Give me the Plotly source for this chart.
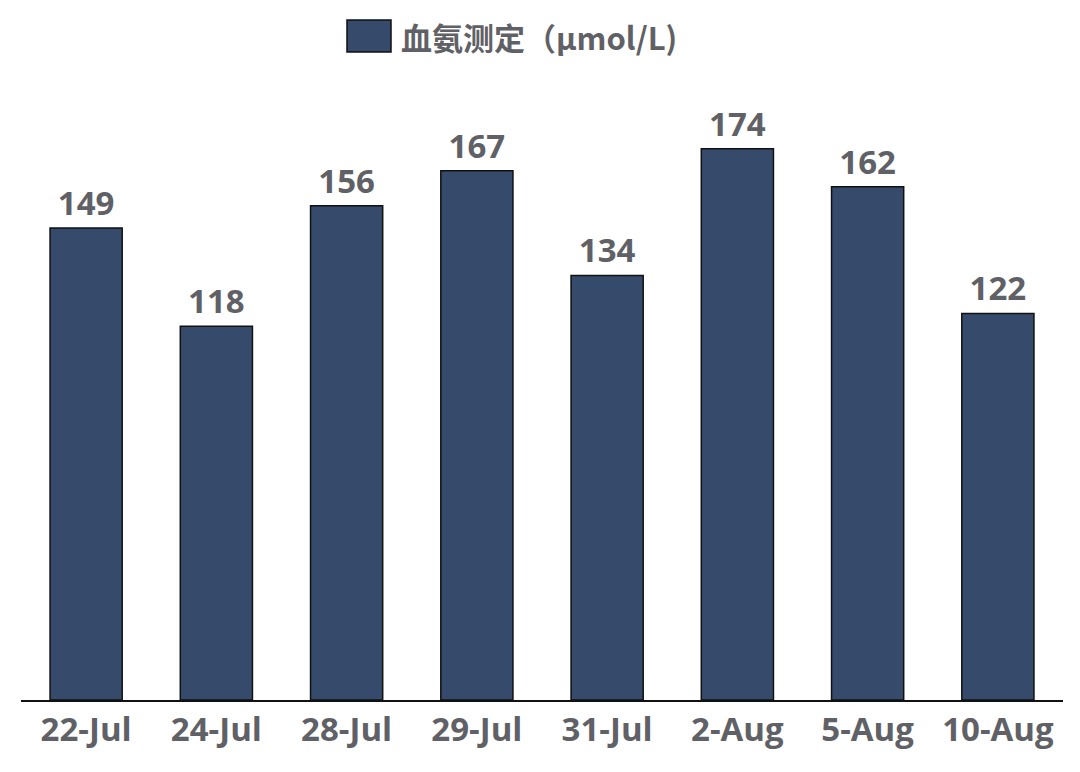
import plotly.graph_objects as go

categories = ["22-Jul", "24-Jul", "28-Jul", "29-Jul", "31-Jul", "2-Aug", "5-Aug", "10-Aug"]
values = [149, 118, 156, 167, 134, 174, 162, 122]
series_name = "血氨测定（μmol/L)"

# page body has an 8px margin; work in window pixel coordinates
OFF = 8
WIN_W, WIN_H = 1080, 772
W, H = WIN_W - OFF, WIN_H - OFF
PL, PR, PT, PB = 21, 1063, 98, 700  # plot area in window pixels
ML, MR, MT, MB = PL - OFF, W - (PR - OFF), PT - OFF, H - (PB - OFF)
PW, PH = W - ML - MR, H - MT - MB

def px2paper(x, y):
    return (x - OFF - ML) / PW, (H - MB - (y - OFF)) / PH

FONT = "Open Sans, Noto Sans CJK SC, sans-serif"
GRAY = "#5f6166"
BAR = "#364b6b"

fig = go.Figure()
fig.add_trace(go.Bar(
    x=categories, y=values, name=series_name,
    marker=dict(color=BAR, line=dict(color="#111111", width=1.5)),
    text=[str(v) for v in values], textposition="outside",
    textfont=dict(family=FONT, size=33, color=GRAY, weight="bold"),
    cliponaxis=False, showlegend=False,
))

x0, y0 = px2paper(347, 52)
x1, y1 = px2paper(391, 20)
fig.add_shape(type="rect", xref="paper", yref="paper", x0=x0, y0=y0, x1=x1, y1=y1,
              fillcolor=BAR, line=dict(color="#111111", width=1.5))
ax, ay = px2paper(399, 36)
fig.add_annotation(xref="paper", yref="paper", x=ax, y=ay, xanchor="left", yanchor="middle",
                   text=series_name, showarrow=False,
                   font=dict(family="Noto Sans CJK SC, Open Sans, sans-serif", size=31, color=GRAY, weight="bold"))

fig.update_layout(
    width=W, height=H,
    margin=dict(l=ML, r=MR, t=MT, b=MB),
    paper_bgcolor="white", plot_bgcolor="white",
    bargap=0.446,
    xaxis=dict(showline=True, linecolor="#111111", linewidth=1.5, showgrid=False, ticks="",
               tickfont=dict(family=FONT, size=33, color=GRAY, weight="bold")),
    yaxis=dict(range=[0, 190], visible=False, showgrid=False),
)

fig.write_html("out.html")
